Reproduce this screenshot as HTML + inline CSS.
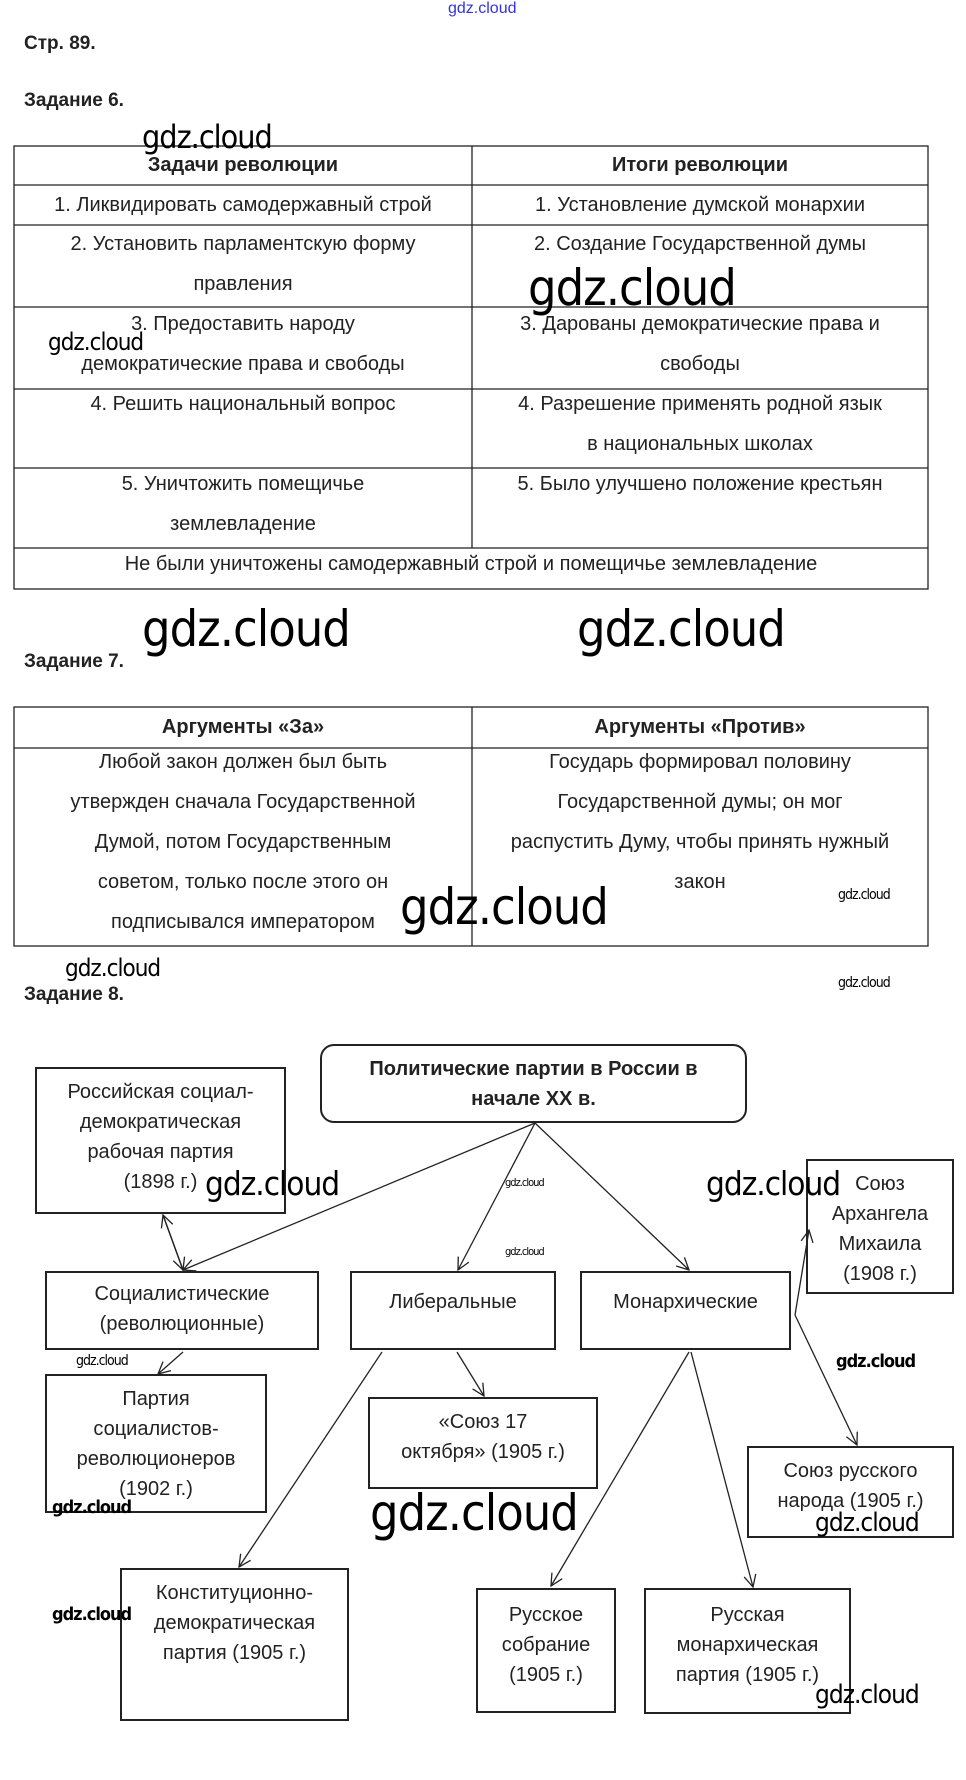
<!DOCTYPE html>
<html><head><meta charset="utf-8"><style>
body{margin:0;background:#fff;}
#p{position:relative;width:966px;height:1780px;overflow:hidden;font-family:"Liberation Sans",sans-serif;color:#222;}
.a{position:absolute;white-space:nowrap;}
.h{font-weight:bold;font-size:19px;}
.c{position:absolute;text-align:center;font-size:20px;line-height:40px;box-sizing:border-box;}
.w{position:absolute;white-space:nowrap;color:#000;font-family:"DejaVu Sans Condensed","Liberation Sans",sans-serif;letter-spacing:-1px;}
.b{position:absolute;border:2px solid #222;box-sizing:border-box;display:flex;align-items:flex-start;justify-content:center;text-align:center;font-size:20px;line-height:30px;}
</style></head><body><div id="p">
<div class="a" style="left:448px;top:0;font-size:16px;color:#33d;">gdz.cloud</div>
<div class="a h" style="left:24px;top:33px;">Стр. 89.</div>
<div class="a h" style="left:24px;top:90px;">Задание 6.</div>

<svg style="position:absolute;left:0;top:0" width="966" height="1780">
<g stroke="#222" stroke-width="1.3" fill="none">
<rect x="14" y="146" width="914" height="443"/>
<line x1="472" y1="146" x2="472" y2="548"/>
<line x1="14" y1="185" x2="928" y2="185"/>
<line x1="14" y1="225" x2="928" y2="225"/>
<line x1="14" y1="307" x2="928" y2="307"/>
<line x1="14" y1="389" x2="928" y2="389"/>
<line x1="14" y1="468" x2="928" y2="468"/>
<line x1="14" y1="548" x2="928" y2="548"/>
<rect x="14" y="707" width="914" height="239"/>
<line x1="472" y1="707" x2="472" y2="946"/>
<line x1="14" y1="748" x2="928" y2="748"/>
</g>
<defs><marker id="m" markerWidth="14" markerHeight="14" refX="13" refY="7" orient="auto" markerUnits="userSpaceOnUse"><path d="M1,1 L13,7 L1,13" fill="none" stroke="#222" stroke-width="1.3"/></marker></defs>
<g stroke="#222" stroke-width="1.3" fill="none" marker-end="url(#m)">
<line x1="535" y1="1123" x2="183" y2="1270"/>
<line x1="535" y1="1123" x2="458" y2="1270"/>
<line x1="535" y1="1123" x2="689" y2="1270"/>
<line x1="183" y1="1270" x2="163" y2="1215"/>
<line x1="163" y1="1215" x2="183" y2="1270"/>
<line x1="183" y1="1352" x2="158" y2="1374"/>
<line x1="382" y1="1352" x2="239" y2="1567"/>
<line x1="457" y1="1352" x2="484" y2="1396"/>
<line x1="689" y1="1352" x2="551" y2="1586"/>
<line x1="691" y1="1352" x2="753" y2="1587"/>
<line x1="795" y1="1315" x2="809" y2="1230"/>
<line x1="795" y1="1315" x2="857" y2="1445"/>
</g>
</svg>

<div class="c h" style="left:14px;top:146px;width:458px;line-height:39px;font-weight:bold;">Задачи революции</div>
<div class="c h" style="left:472px;top:146px;width:456px;line-height:39px;font-weight:bold;">Итоги революции</div>
<div class="c" style="left:14px;top:185px;width:458px;">1. Ликвидировать самодержавный строй</div>
<div class="c" style="left:472px;top:185px;width:456px;">1. Установление думской монархии</div>
<div class="c" style="left:14px;top:224px;width:458px;">2. Установить парламентскую форму<br>правления</div>
<div class="c" style="left:472px;top:224px;width:456px;">2. Создание Государственной думы</div>
<div class="c" style="left:14px;top:304px;width:458px;">3. Предоставить народу<br>демократические права и свободы</div>
<div class="c" style="left:472px;top:304px;width:456px;">3. Дарованы демократические права и<br>свободы</div>
<div class="c" style="left:14px;top:384px;width:458px;">4. Решить национальный вопрос</div>
<div class="c" style="left:472px;top:384px;width:456px;">4. Разрешение применять родной язык<br>в национальных школах</div>
<div class="c" style="left:14px;top:464px;width:458px;">5. Уничтожить помещичье<br>землевладение</div>
<div class="c" style="left:472px;top:464px;width:456px;">5. Было улучшено положение крестьян</div>
<div class="c" style="left:14px;top:544px;width:914px;">Не были уничтожены самодержавный строй и помещичье землевладение</div>

<div class="a h" style="left:24px;top:651px;">Задание 7.</div>
<div class="c h" style="left:14px;top:707px;width:458px;font-weight:bold;">Аргументы «За»</div>
<div class="c h" style="left:472px;top:707px;width:456px;font-weight:bold;">Аргументы «Против»</div>
<div class="c" style="left:14px;top:742px;width:458px;">Любой закон должен был быть<br>утвержден сначала Государственной<br>Думой, потом Государственным<br>советом, только после этого он<br>подписывался императором</div>
<div class="c" style="left:472px;top:742px;width:456px;">Государь формировал половину<br>Государственной думы; он мог<br>распустить Думу, чтобы принять нужный<br>закон</div>

<div class="a h" style="left:24px;top:984px;">Задание 8.</div>

<div class="b" style="left:320px;top:1044px;width:427px;height:79px;border-radius:14px;font-weight:bold;padding-top:8px;">Политические партии в России в<br>начале XX в.</div>
<div class="b" style="left:35px;top:1067px;width:251px;height:147px;padding-top:8px;">Российская социал-<br>демократическая<br>рабочая партия<br>(1898 г.)</div>
<div class="b" style="left:45px;top:1271px;width:274px;height:79px;padding-top:6px;">Социалистические<br>(революционные)</div>
<div class="b" style="left:350px;top:1271px;width:206px;height:79px;padding-top:14px;">Либеральные</div>
<div class="b" style="left:580px;top:1271px;width:211px;height:79px;padding-top:14px;">Монархические</div>
<div class="b" style="left:806px;top:1159px;width:148px;height:135px;padding-top:8px;">Союз<br>Архангела<br>Михаила<br>(1908 г.)</div>
<div class="b" style="left:45px;top:1374px;width:222px;height:139px;padding-top:8px;">Партия<br>социалистов-<br>революционеров<br>(1902 г.)</div>
<div class="b" style="left:368px;top:1397px;width:230px;height:92px;padding-top:8px;">«Союз 17<br>октября» (1905 г.)</div>
<div class="b" style="left:747px;top:1446px;width:207px;height:92px;padding-top:8px;">Союз русского<br>народа (1905 г.)</div>
<div class="b" style="left:120px;top:1568px;width:229px;height:153px;padding-top:8px;">Конституционно-<br>демократическая<br>партия (1905 г.)</div>
<div class="b" style="left:476px;top:1588px;width:140px;height:125px;padding-top:10px;">Русское<br>собрание<br>(1905 г.)</div>
<div class="b" style="left:644px;top:1588px;width:207px;height:126px;padding-top:10px;">Русская<br>монархическая<br>партия (1905 г.)</div>

<div class="w" style="left:142px;top:118px;font-size:32px;">gdz.cloud</div>
<div class="w" style="left:528px;top:259px;font-size:50px;">gdz.cloud</div>
<div class="w" style="left:48px;top:328px;font-size:24px;">gdz.cloud</div>
<div class="w" style="left:142px;top:600px;font-size:50px;">gdz.cloud</div>
<div class="w" style="left:577px;top:600px;font-size:50px;">gdz.cloud</div>
<div class="w" style="left:400px;top:878px;font-size:50px;">gdz.cloud</div>
<div class="w" style="left:838px;top:887px;font-size:14px;">gdz.cloud</div>
<div class="w" style="left:838px;top:975px;font-size:14px;">gdz.cloud</div>
<div class="w" style="left:65px;top:954px;font-size:24px;">gdz.cloud</div>
<div class="w" style="left:205px;top:1164px;font-size:33px;">gdz.cloud</div>
<div class="w" style="left:706px;top:1164px;font-size:33px;">gdz.cloud</div>
<div class="w" style="left:505px;top:1176px;font-size:11px;">gdz.cloud</div>
<div class="w" style="left:505px;top:1245px;font-size:11px;">gdz.cloud</div>
<div class="w" style="left:76px;top:1353px;font-size:14px;">gdz.cloud</div>
<div class="w" style="left:836px;top:1351px;font-size:18px;font-weight:bold;">gdz.cloud</div>
<div class="w" style="left:52px;top:1497px;font-size:18px;font-weight:bold;">gdz.cloud</div>
<div class="w" style="left:370px;top:1484px;font-size:50px;">gdz.cloud</div>
<div class="w" style="left:815px;top:1508px;font-size:26px;">gdz.cloud</div>
<div class="w" style="left:52px;top:1604px;font-size:18px;font-weight:bold;">gdz.cloud</div>
<div class="w" style="left:815px;top:1680px;font-size:26px;">gdz.cloud</div>
</div></body></html>
